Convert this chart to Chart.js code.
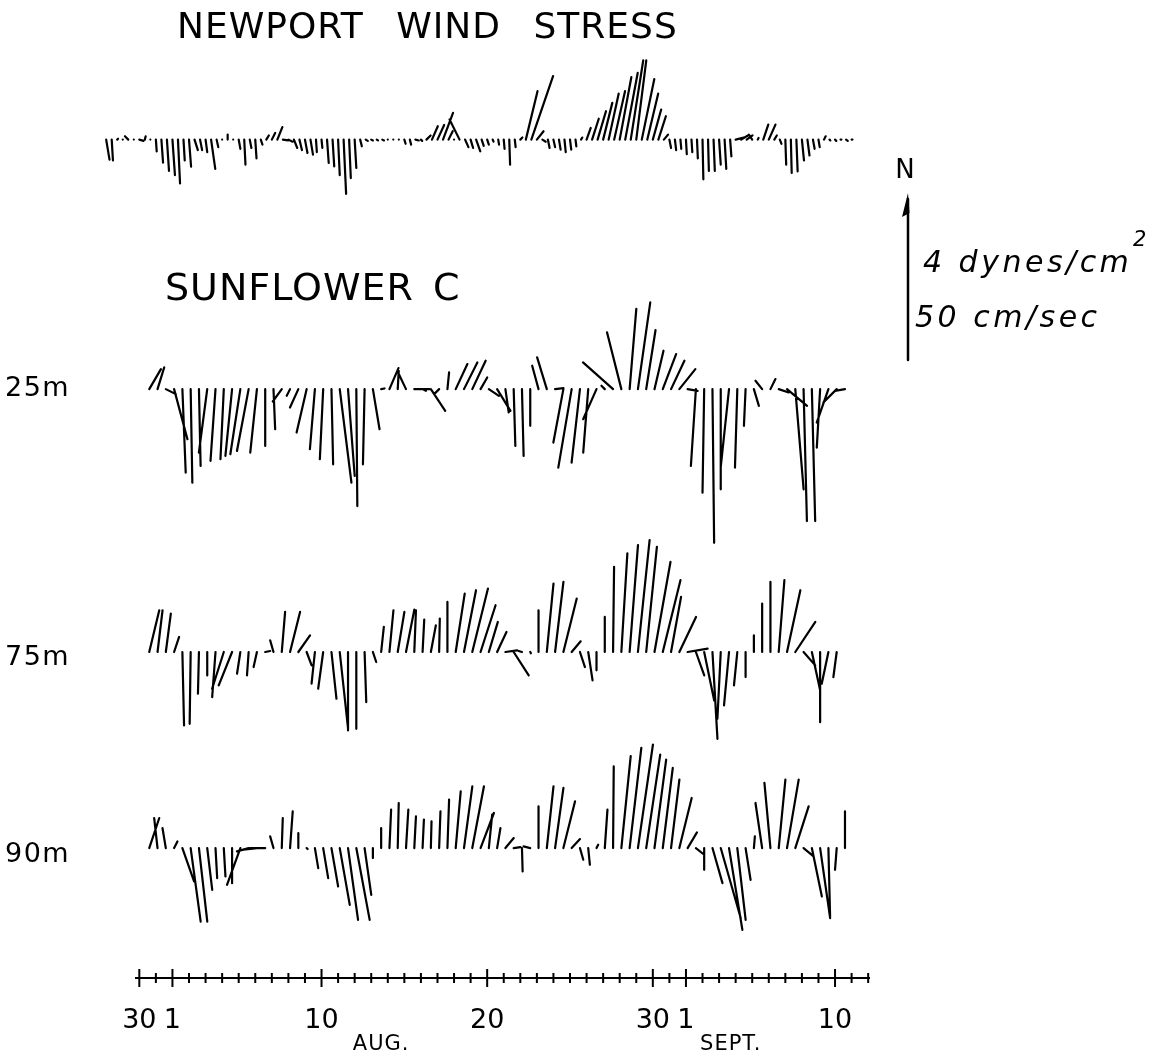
<!DOCTYPE html>
<html>
<head>
<meta charset="utf-8">
<title>Newport wind stress and Sunflower C currents</title>
<script src="https://cdn.jsdelivr.net/npm/chart.js@4.4.0/dist/chart.umd.min.js"></script>
<style>
  html, body { margin: 0; padding: 0; background: #fff; }
</style>
</head>
<body>
<canvas id="sticks" width="1166" height="1056"></canvas>
<script>
// Time is counted in days from 1 Aug 00:00; one stick per sample.
const windStart = -4, windStep = 1 / 3;        // wind stress, 8-hourly
const currentStart = -1.4, currentStep = 0.5;  // currents, 12-hourly

// Newport wind stress, dynes/cm^2 (east, north)
const windU = [
  0.08, 0.03, 0.02, 0, -0.08, 0, 0.1, 0.02, 0, 0.02,
  0.04, 0.05, 0.06, 0.05, 0.03, 0.05, 0.08, 0.05, 0.04, 0.1,
  0.04, 0, 0, 0, 0.04, 0.03, 0.04, 0.03, 0.04, 0.06,
  0.08, 0.12, 0.12, 0.1, 0.08, 0.06, 0.06, 0.06, 0.02, 0.02,
  0.04, 0.04, 0.04, 0.06, 0.04, 0.04, 0.04, 0.05, 0.04, 0.03,
  0.04, 0, 0, 0, 0.03, 0.03, 0.08, 0.03, 0.1, 0.14,
  0.16, 0.24, 0.1, 0, -0.24, 0.08, 0.06, 0.1, 0.05, 0.04,
  0.02, 0.02, 0.02, 0.02, 0.02, 0.05, 0.28, 0.52, 0.16, 0.08,
  0.04, 0.04, 0.04, 0.03, 0.03, 0.02, 0.03, 0.1, 0.16, 0.2,
  0.22, 0.24, 0.26, 0.28, 0.3, 0.3, 0.24, 0.3, 0.26, 0.2,
  0.18, 0.1, 0.04, 0.03, 0.02, 0.02, 0.02, 0.02, 0.02, 0.02,
  0.03, 0.04, 0.04, 0.03, 0.24, 0.16, 0.14, -0.08, 0.02, 0.12,
  0.16, 0.06, 0.04, 0.02, 0.02, 0.03, 0.05, 0.05, 0.04, 0.03,
  0.04, 0.02, 0.03, 0.02, 0.04, 0.02
];
const windV = [
  -0.48, -0.5, 0.02, 0, 0.08, 0, -0.03, 0.08, 0, -0.28,
  -0.55, -0.75, -0.85, -1.05, -0.5, -0.65, -0.25, -0.25, -0.3, -0.7,
  -0.18, 0, 0.12, 0, -0.22, -0.6, -0.2, -0.45, -0.12, 0.1,
  0.16, 0.3, -0.02, -0.05, -0.2, -0.25, -0.32, -0.36, -0.3, -0.2,
  -0.56, -0.64, -0.85, -1.3, -0.92, -0.68, -0.16, -0.03, -0.02, -0.02,
  -0.02, 0, 0, 0, -0.1, -0.12, -0.02, -0.03, 0.1, 0.32,
  0.35, 0.64, 0.2, 0, 0.48, -0.18, -0.2, -0.28, -0.15, -0.12,
  -0.05, -0.12, -0.22, -0.6, -0.18, 0.05, 1.16, 1.52, 0.2, -0.05,
  -0.2, -0.18, -0.24, -0.3, -0.24, -0.16, 0.05, 0.28, 0.5, 0.68,
  0.88, 1.1, 1.16, 1.5, 1.6, 1.9, 1.9, 1.45, 1.1, 0.72,
  0.56, 0.12, -0.2, -0.25, -0.22, -0.35, -0.3, -0.45, -0.95, -0.75,
  -0.75, -0.6, -0.7, -0.4, 0.06, 0.1, 0.1, 0.12, 0.04, 0.36,
  0.36, 0.1, -0.1, -0.6, -0.8, -0.76, -0.5, -0.38, -0.22, -0.18,
  0.08, -0.02, -0.03, 0, -0.03, 0
];

// Sunflower C currents, cm/sec (east, north)
const u25 = [
  3.5, 2, 3, 4, 1, 0.5, 0.5, -2.5, -1.5, -1,
  -2, -3, -3.5, -2, 0, 0.5, -2.7, -1, -2.5, -3,
  -1.5, -1, 0.5, 3.5, 2, 0.3, -0.5, 2, 1, 2.7,
  0.3, -2.3, 4.5, 1, 4.3, -1.5, 0.5, 3.5, 4, 4,
  2, 3, 4, 1, 0.5, 0.5, 0, -1.9, -2.9, 2.5,
  -3, -4, -2.5, -1.5, -4, -1, -9, -4.3, 2, 3.7,
  2.8, 2.7, 4, 4, 4.8, 3, -1.5, -0.5, 0.5, 0,
  -2.5, -0.7, -0.5, 1.5, -2, 1.5, 3, 6, 2.5, 1,
  1, -1, -3.5, -4, -3
];
const v25 = [
  6, 6.5, -1.5, -15, -25, -28, -23, -19, -21.5, -21,
  -20, -19.5, -18.5, -19, -17, -12, -3.7, -2, -5.5, -13,
  -18, -21, -22.5, -28, -26, -35, -22.5, -12, 0.2, 6.3,
  5.5, 4.8, 0, -0.5, -6.5, -1.5, 5, 7.5, 8, 8.5,
  3.5, -2, -6.5, -7, -17, -20, -11, 7, 9.5, 0.3,
  -16, -23.5, -22, -19, -9, 1, 8, 17, 24, 26,
  17.7, 11.5, 10.5, 8.5, 6, -0.5, -23, -31, -46, -30,
  -23.5, -23.5, -11, -5, 2.5, 3, -1, -5, -30, -39.5,
  -39.5, -17.5, -10, -4, -0.5
];
const u75 = [
  3, 1.5, 1.5, 1.5, 0.5, -0.3, -0.3, 0, -1, -3.5,
  -4, -1, -0.5, -1, 1.5, -1, 1, 3, 3.5, 1.5,
  -1, -1.5, 1.5, 2.5, 0, 0, 0.5, 1, 0.8, 1.2,
  2, 2.5, 0.5, 0.5, 1.5, 0.2, 0, 2.7, 3.6, 4.7,
  4.5, 2.7, 2.8, 3.5, 4.5, -1, 0.2, 0, 2, 2.5,
  4, 2.7, 1.5, 1.3, 0, 0, 0.3, 1.8, 2.5, 3.5,
  3.2, 4.8, 5.3, 3, 5, 6, 2.5, 3, 1.5, -1,
  -1.5, -1, 0, 0, 0, 0, 1.7, 4, 6, 3.5,
  2.5, 0, -2, -1
];
const v75 = [
  12.5, 12.5, 11.5, 4.5, -22, -21.5, -12.5, -7, -13.5, -11,
  -10, -6.5, -7, -4.5, 0.3, 3.5, 12, 12, 5, -4,
  -9.5, -11, -14, -23, -23.5, -23, -15, -3, 7.5, 12.5,
  12, 12.7, 12.5, 9.7, 8, 10, 15, 17.5, 18.5, 19,
  14, 9, 6, 0.5, -7, 0.3, -0.4, 12.5, 20.5, 21,
  16, 3.2, -4.5, -8.5, -5.5, 10.5, 25.5, 29.5, 32, 33.5,
  31.5, 27, 21.5, 16.5, 10.5, 1, -7, -14.5, -26, -20,
  -16, -10, -7.5, 5, 14.5, 21, 21.5, 18.5, 9, -4,
  -11.5, -21, -9.5, -7.5
];
const u90 = [
  3, -1, -1, 1, 3.5, 3, 2.5, 1.5, 0.5, 0.5,
  0, -4, -3.5, -4, -4.5, -1, 0.3, 0.8, 0, 0.3,
  1, 1.5, 2, 3, 3, 4, 2, 0, 0, 0.5,
  0.3, 0.7, 0.5, 0.4, 0.2, 0.4, 0.5, 1.5, 2.5, 3.5,
  4, 1, 1, 2.5, 2, 0.2, -2, 0, 2, 2.5,
  3.5, 2.5, 1, 0.5, 0.5, 0.8, 0.2, 2.8, 3.5, 4.5,
  4.2, 3.5, 3, 2.5, 3.7, 2.8, 2.5, 0, 3, 6,
  4, 2.5, 1.5, 0.3, -2, -1.8, 2, 3.5, 4, 3,
  3, 3, 0.5, -0.5, 0
];
const v90 = [
  9, 9, 6, 2, -10, -22, -22, -12.5, -9, -8.5,
  -10.5, -11, -1, -0.5, 0, 3.5, 9, 11, 4.5, -0.3,
  -6, -9, -11.5, -17, -21.5, -21.5, -14, -3, 6, 11.5,
  13.5, 11.5, 9.5, 8.5, 8, 11, 14.5, 17, 18.5, 18.5,
  10.5, 10, 6, 3, 0.3, -7, 0.5, 12.5, 18.5, 18,
  14, 2.7, -3.5, -5, 1, 11.5, 24.5, 27.5, 30, 31,
  28, 26.5, 24, 20.5, 15, 4.7, -2, -6.5, -10.5, -21,
  -24.5, -21.5, -9.5, 3.5, 13.5, 19.5, 20.5, 20.5, 12.5, -2.5,
  -14.5, -21, -20.5, -6.5, 11
];

// axis: day labels and month names
const tickDays = [-2, 0, 9, 19, 29, 31, 40];
const tickNames = ['30', '1', '10', '20', '30', '1', '10'];
const monthNames = ['AUG.', 'SEPT.'];
const monthDays = [12.6, 33.7];

// 4 dynes/cm^2 is drawn the same length as 50 cm/sec
const windToCm = 50 / 4;

// baselines in cm/sec above the time axis
const rows = [
  { u: windU, v: windV, start: windStart, step: windStep, base: 251, scale: windToCm },
  { u: u25, v: v25, start: currentStart, step: currentStep, base: 176.3, scale: 1 },
  { u: u75, v: v75, start: currentStart, step: currentStep, base: 97.6, scale: 1 },
  { u: u90, v: v90, start: currentStart, step: currentStep, base: 38.9, scale: 1 }
];

const INK = '#000';
const LETTER = '"DejaVu Sans", "Liberation Sans", sans-serif';

function write(ctx, text, x, y, size, opts = {}) {
  ctx.font = (opts.italic ? 'italic ' : '') + size + 'px ' + LETTER;
  ctx.textAlign = opts.align || 'left';
  ctx.textBaseline = 'alphabetic';
  ctx.letterSpacing = (opts.spacing || 0) + 'px';
  ctx.wordSpacing = (opts.word || 0) + 'px';
  ctx.fillText(text, x, y);
}

const stickPlot = {
  id: 'stickPlot',
  afterDatasetsDraw(chart) {
    const { ctx, scales: { x, y } } = chart;
    const k = y.getPixelForValue(0) - y.getPixelForValue(1); // px per cm/sec
    ctx.save();
    ctx.strokeStyle = INK;
    ctx.lineWidth = 2.2;
    ctx.lineCap = 'round';
    rows.forEach(row => {
      const y0 = y.getPixelForValue(row.base);
      ctx.beginPath();
      row.u.forEach((u, i) => {
        const x0 = x.getPixelForValue(row.start + i * row.step);
        ctx.moveTo(x0, y0);
        ctx.lineTo(x0 + u * row.scale * k, y0 - row.v[i] * row.scale * k);
      });
      ctx.stroke();
    });

    // scale arrow: 50 cm/sec pointing north
    const ax = 908, ab = 360, at = ab - 50 * k;
    ctx.lineWidth = 2.5;
    ctx.beginPath();
    ctx.moveTo(ax, ab);
    ctx.lineTo(ax, at + 6);
    ctx.stroke();
    ctx.beginPath();
    ctx.moveTo(ax, at);
    ctx.lineTo(ax - 6, at + 24);
    ctx.lineTo(ax + 1.5, at + 20);
    ctx.closePath();
    ctx.fillStyle = INK;
    ctx.fill();
    ctx.restore();
  },
  afterDraw(chart) {
    const { ctx, scales: { x }, chartArea } = chart;
    const axisY = chartArea.bottom;
    ctx.save();
    ctx.strokeStyle = INK;
    ctx.fillStyle = INK;

    // "+" ticks across the time axis, taller on labelled days
    ctx.lineWidth = 2;
    ctx.beginPath();
    x.ticks.forEach(t => {
      const px = x.getPixelForValue(t.value);
      const h = tickDays.includes(t.value) ? 9 : 5;
      ctx.moveTo(px, axisY - h);
      ctx.lineTo(px, axisY + h);
    });
    ctx.stroke();

    monthNames.forEach((m, i) => {
      write(ctx, m, x.getPixelForValue(monthDays[i]), 1050, 21, { align: 'center', spacing: 1 });
    });

    write(ctx, 'NEWPORT WIND STRESS', 177, 38, 36, { spacing: 1, word: 20 });
    write(ctx, 'SUNFLOWER C', 165, 300, 38, { spacing: 1, word: 6 });
    write(ctx, '25m', 5, 396, 27, { spacing: 1.5 });
    write(ctx, '75m', 5, 665, 27, { spacing: 1.5 });
    write(ctx, '90m', 5, 862, 27, { spacing: 1.5 });

    write(ctx, 'N', 905, 178, 26, { align: 'center' });
    write(ctx, '4 dynes/cm', 923, 272, 30, { italic: true, spacing: 3.5 });
    write(ctx, '2', 1133, 246, 21, { italic: true });
    write(ctx, '50 cm/sec', 915, 327, 30, { italic: true, spacing: 3.5 });
    ctx.restore();
  }
};

new Chart(document.getElementById('sticks'), {
  type: 'scatter',
  data: { datasets: [] },
  options: {
    responsive: false,
    animation: false,
    layout: { padding: { left: 136, right: 297, top: 0, bottom: 18 } },
    plugins: { legend: { display: false }, tooltip: { enabled: false } },
    scales: {
      x: {
        type: 'linear',
        position: 'bottom',
        min: -2.2,
        max: 42.05,
        afterFit: scale => { scale.height = 60; },
        grid: { display: false, drawTicks: false },
        border: { display: true, color: INK, width: 2 },
        ticks: {
          stepSize: 1,
          includeBounds: false,
          autoSkip: false,
          maxRotation: 0,
          padding: 27,
          color: INK,
          font: { family: LETTER, size: 27 },
          callback: value => {
            const i = tickDays.indexOf(value);
            return i >= 0 ? tickNames[i] : '';
          }
        }
      },
      y: { type: 'linear', display: false, min: 0, max: 292.8 }
    }
  },
  plugins: [stickPlot]
});
</script>
</body>
</html>
